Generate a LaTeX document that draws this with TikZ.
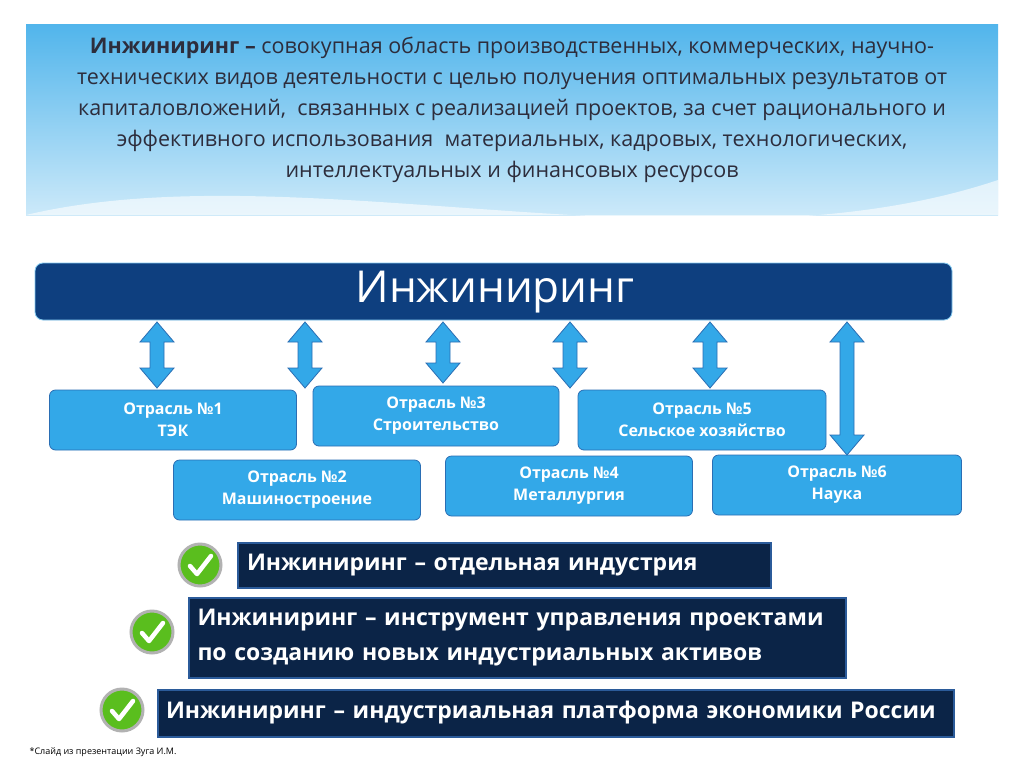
\documentclass[tikz,border=0pt]{standalone}
\usepackage{fontspec}
\setmainfont{Open Sans}
\begin{document}
\begin{tikzpicture}[x=1pt,y=-1pt]
  % colors
  \definecolor{kSky}{RGB}{51,168,232}
  \definecolor{kSkyDark}{RGB}{42,110,180}
  \definecolor{kNavy}{RGB}{14,63,127}
  \definecolor{kInk}{RGB}{11,36,71}
  \definecolor{kEdge}{RGB}{43,91,154}
  \definecolor{kText}{RGB}{45,45,60}
  \definecolor{kGreen}{RGB}{90,190,30}
  \tikzset{
    branch/.style={draw=kSkyDark,thick,fill=kSky,rounded corners=6pt,text=white,
      font=\bfseries\fontsize{16}{22}\selectfont,align=center},
    thesis/.style={draw=kEdge,line width=2pt,fill=kInk,text=white,
      font=\bfseries\fontsize{23}{35}\selectfont,align=left,anchor=west},
    link/.style={draw=kSkyDark,fill=kSky,thick},
    tick/.style={draw=gray!60,line width=3pt,fill=kGreen}
  }
  \useasboundingbox (0,0) rectangle (1024,768);
  \fill[white] (0,0) rectangle (1024,768);
  % definition panel
  \shade[top color=kSky!85,bottom color=kSky!25] (26,25) rectangle (998,215);
  \fill[white,opacity=0.6] (26,215) .. controls (300,150) and (700,280) .. (998,180) -- (998,215) -- cycle;
  \node[text=kText,align=center,font=\fontsize{21.5}{31}\selectfont] (def) at (512,110)
    {\textbf{Инжиниринг –} совокупная область производственных, коммерческих, научно-\\
     технических видов деятельности с целью получения оптимальных результатов от\\
     капиталовложений,\ \ связанных с реализацией проектов, за счет рационального и\\
     эффективного использования\ \ материальных, кадровых, технологических,\\
     интеллектуальных и финансовых ресурсов};
  % main bar
  \draw[fill=kNavy,draw=kSky!60,rounded corners=8pt,thick] (35,263) rectangle (952,320);
  \node[text=white,font=\fontsize{44}{46}\selectfont] (eng) at (495,292) {Инжиниринг};
  % branches
  \node[branch,minimum width=247pt,minimum height=60pt] (b1) at (173,420) {Отрасль №1\\ТЭК};
  \node[branch,minimum width=246pt,minimum height=60pt] (b3) at (436,416) {Отрасль №3\\Строительство};
  \node[branch,minimum width=248pt,minimum height=60pt] (b5) at (702,420) {Отрасль №5\\Сельское хозяйство};
  \node[branch,minimum width=247pt,minimum height=60pt] (b2) at (297,490) {Отрасль №2\\Машиностроение};
  \node[branch,minimum width=247pt,minimum height=60pt] (b4) at (569,486) {Отрасль №4\\Металлургия};
  \node[branch,minimum width=249pt,minimum height=60pt] (b6) at (837,485) {Отрасль №6\\Наука};
  % double arrows
  \foreach \x/\y in {157/388,305/388,443/383,570/388,710/388,847/455}{
    \draw[link] (\x,322) -- (\x+17,342) -- (\x+7,342) -- (\x+7,\y-20) -- (\x+17,\y-20)
      -- (\x,\y) -- (\x-17,\y-20) -- (\x-7,\y-20) -- (\x-7,342) -- (\x-17,342) -- cycle;
  }
  % theses
  \node[thesis,minimum width=533pt,minimum height=45pt,text width=515pt] (t1) at (237,565)
    {Инжиниринг – отдельная индустрия};
  \node[thesis,minimum width=657pt,minimum height=80pt,text width=640pt] (t2) at (188,638)
    {Инжиниринг – инструмент управления проектами\\по созданию новых индустриальных активов};
  \node[thesis,minimum width=796pt,minimum height=47pt,text width=780pt] (t3) at (157,713)
    {Инжиниринг – индустриальная платформа экономики России};
  % check marks
  \foreach \x/\y in {200/565,152/632,122/710}{
    \draw[tick] (\x,\y) circle (21);
    \draw[white,line width=4.5pt,line cap=round,line join=round]
      (\x-10,\y+1) -- (\x-3,\y+9) -- (\x+11,\y-9);
  }
  \node[anchor=west,font=\fontsize{9}{12}\selectfont] (note) at (26,752)
    {*Слайд из презентации Зуга И.М.};
\end{tikzpicture}
\end{document}
